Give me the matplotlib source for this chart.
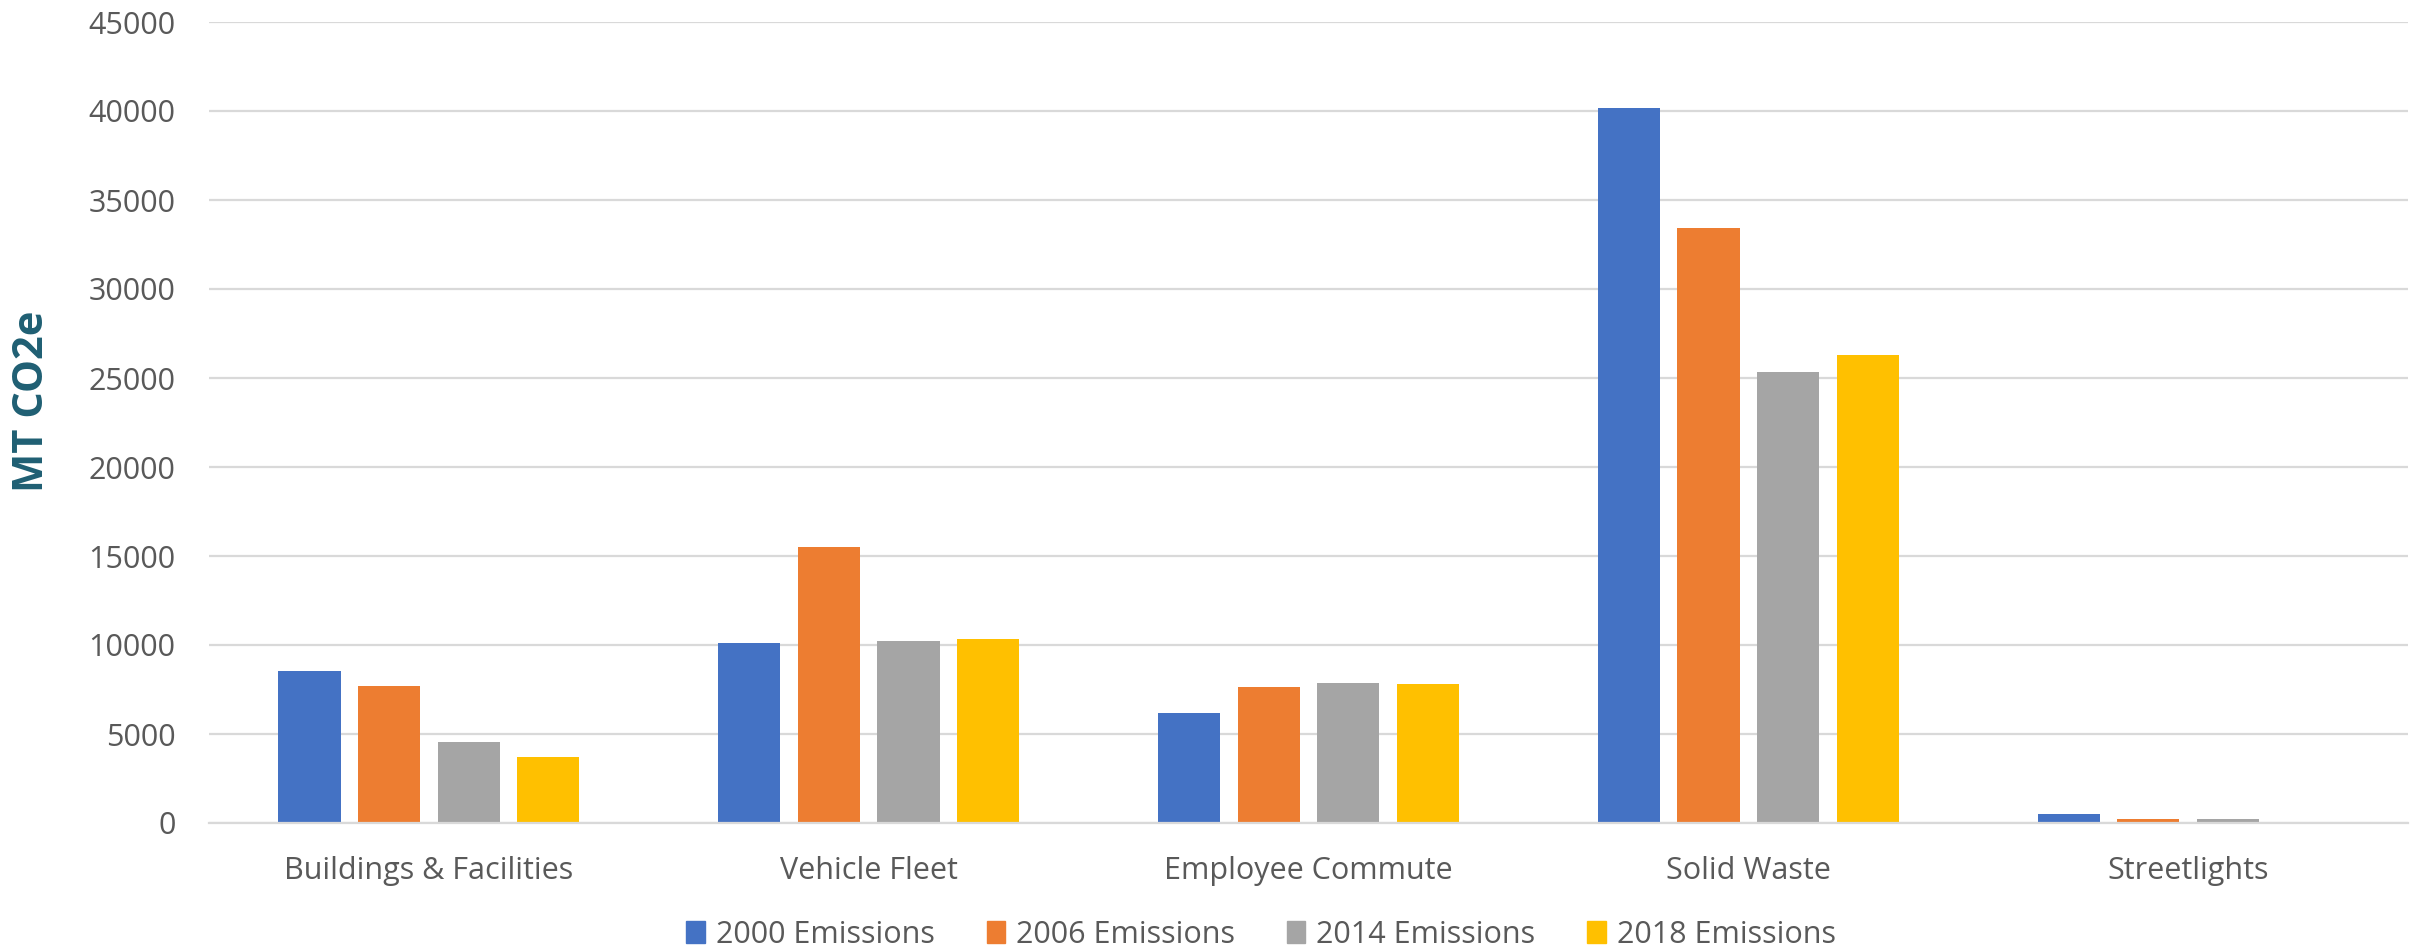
import numpy as np
import matplotlib.pyplot as plt
from matplotlib.patches import Patch

plt.rcParams['font.family'] = ['Open Sans', 'DejaVu Sans']

categories = ['Buildings & Facilities', 'Vehicle Fleet', 'Employee Commute', 'Solid Waste', 'Streetlights']
series_names = ['2000 Emissions', '2006 Emissions', '2014 Emissions', '2018 Emissions']
e2000 = [8550, 10100, 6160, 40150, 500]
e2006 = [7680, 15500, 7660, 33450, 250]
e2014 = [4550, 10240, 7870, 25350, 250]
e2018 = [3730, 10320, 7800, 26300, 0]
yticks = list(range(0, 45001, 5000))

colors = ['#4472C4', '#ED7D31', '#A5A5A5', '#FFC000']
text_col = '#595959'
grid_col = '#D9D9D9'

fig = plt.figure(figsize=(24.25, 9.5), dpi=100)
W, H = 2425, 950
ax = fig.add_axes([209 / W, 1 - 823 / H, (2408 - 209) / W, (823 - 22) / H])

x = np.arange(len(categories))
pitch = 0.181
width = 0.141
for i, vals in enumerate([e2000, e2006, e2014, e2018]):
    ax.bar(x + (i - 1.5) * pitch, vals, width, color=colors[i], zorder=3)

ax.set_xlim(-0.5, len(categories) - 0.5)
ax.set_ylim(0, 45000)
ax.set_yticks(yticks)
ax.set_yticklabels([str(v) for v in yticks])
ax.set_xticks(x)
ax.set_xticklabels(categories)
ax.tick_params(axis='y', length=0, pad=24, labelsize=22, labelcolor=text_col)
ax.tick_params(axis='x', length=0, pad=24, labelsize=22, labelcolor=text_col)

ax.yaxis.grid(True, color=grid_col, linewidth=1.6)
ax.set_axisbelow(True)
for s in ['top', 'right', 'left']:
    ax.spines[s].set_visible(False)
ax.spines['bottom'].set_color(grid_col)
ax.spines['bottom'].set_linewidth(1.6)
ax.spines['bottom'].set_zorder(4)

fig.text(0.0135, 0.578, 'MT CO2e', rotation=90, ha='center', va='center',
         fontsize=30, fontweight='bold', color='#1F5F73')

handles = [Patch(color=c) for c in colors]
fig.legend(handles, series_names, loc='center', bbox_to_anchor=(0.52, 0.016),
           ncol=4, frameon=False, fontsize=22, labelcolor=text_col,
           handlelength=0.6, handleheight=0.7, handletextpad=0.36,
           columnspacing=1.7, borderpad=0, borderaxespad=0)

fig.savefig('out.png', dpi=100)
